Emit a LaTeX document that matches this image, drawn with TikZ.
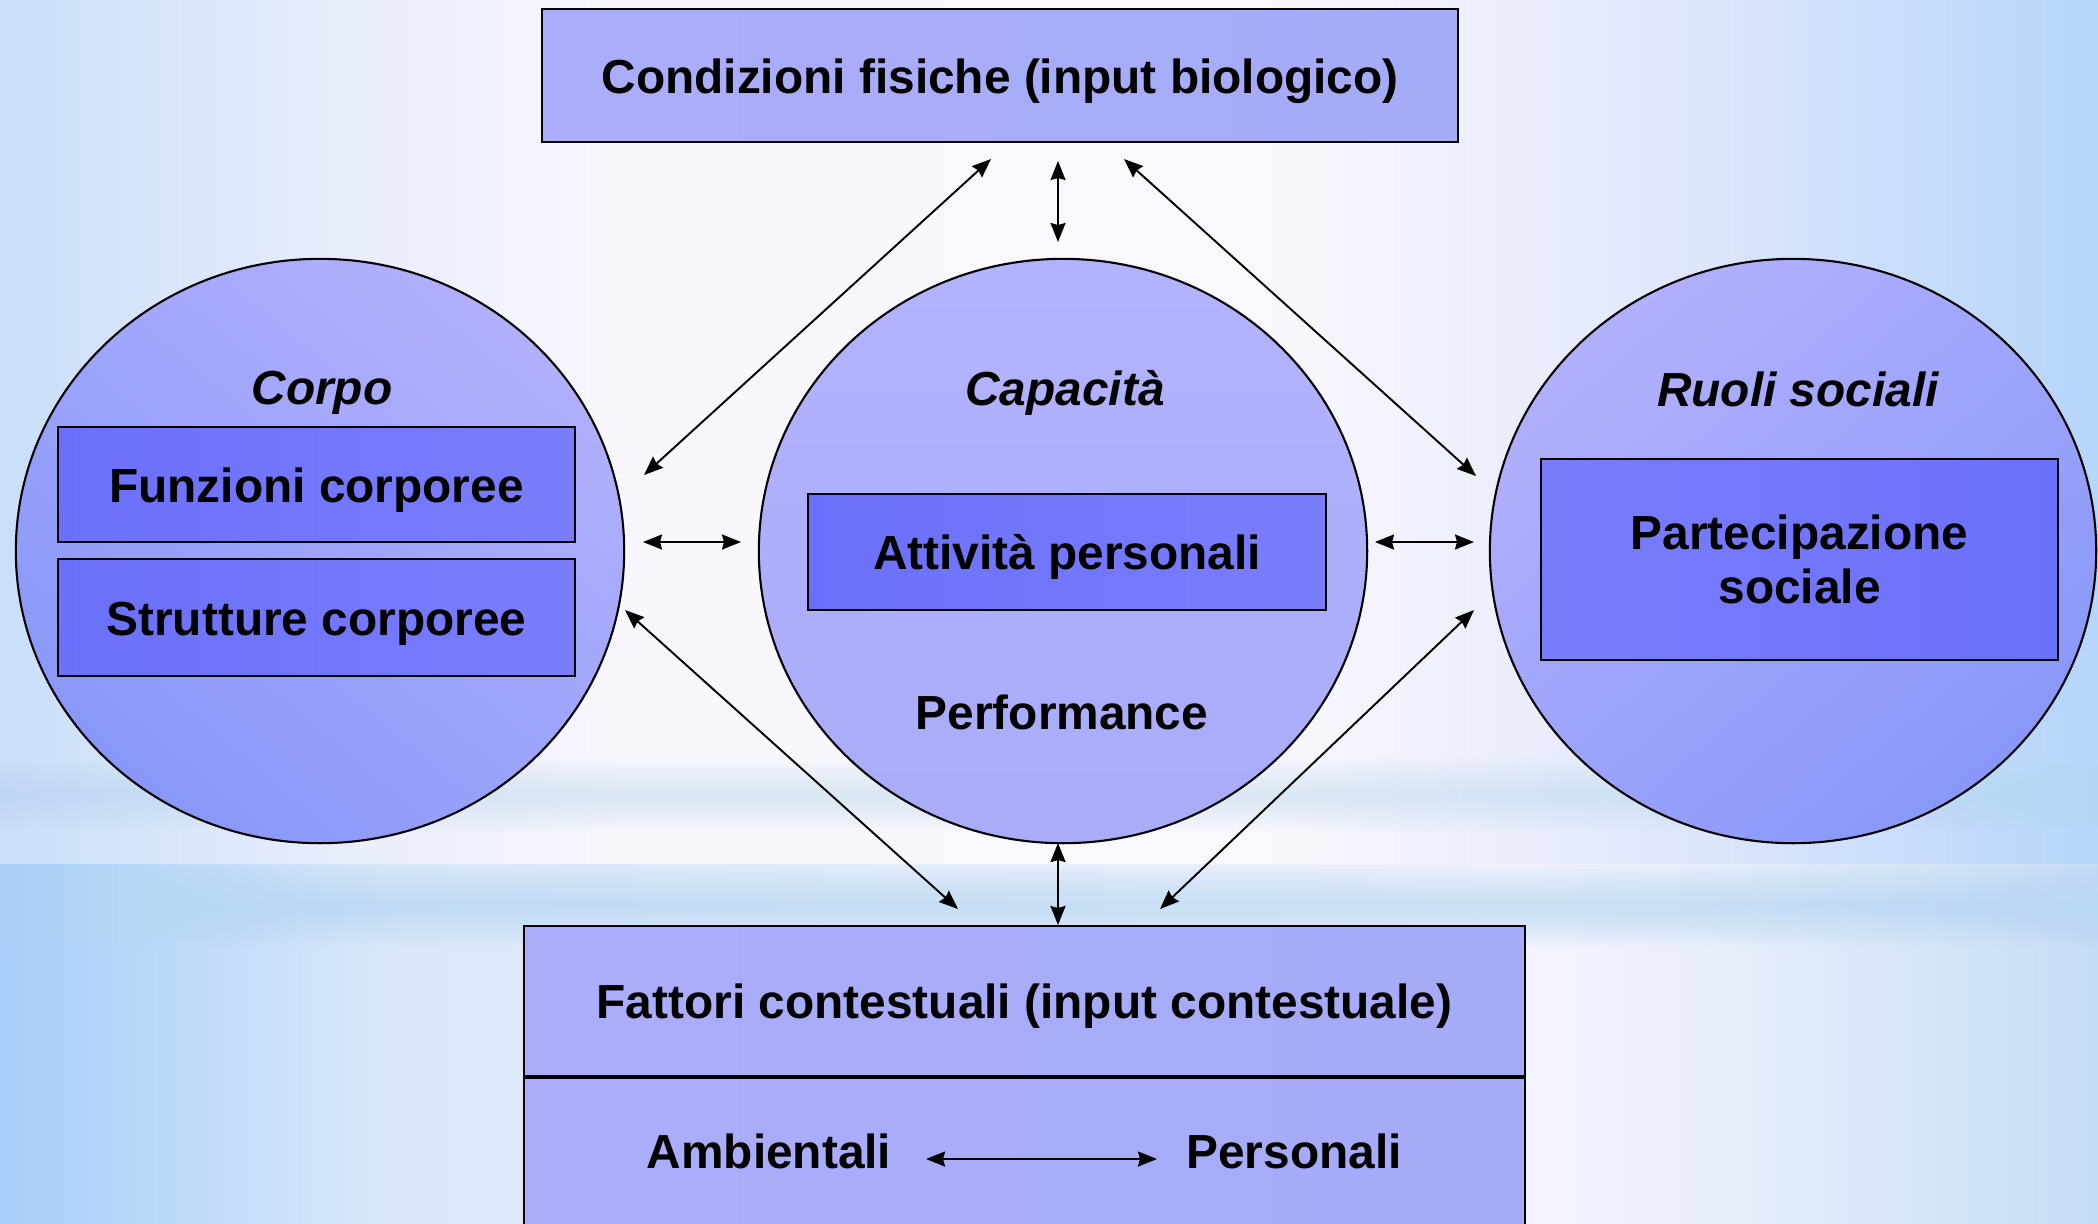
\documentclass[tikz,border=0pt]{standalone}
\usepackage{fontspec}
\setmainfont{Liberation Sans}
\usetikzlibrary{shapes.geometric,arrows.meta}
\definecolor{bgA}{HTML}{C9DEF9}
\definecolor{bgB}{HTML}{E6ECFB}
\definecolor{bgW}{HTML}{F9F7FD}
\definecolor{bgW2}{HTML}{FAF8FD}
\definecolor{bgD}{HTML}{E0E7FC}
\definecolor{bgE}{HTML}{B5D5FA}
\definecolor{lbA}{HTML}{A6CDF8}
\definecolor{lbB}{HTML}{B9D8F9}
\definecolor{lbC}{HTML}{DBE8FA}
\definecolor{lbD}{HTML}{F4F4FD}
\definecolor{lbE}{HTML}{EAEFFC}
\definecolor{lbF}{HTML}{D8E6F9}
\definecolor{lbG}{HTML}{C4DCF5}
\definecolor{bandcol}{HTML}{B6D8F5}
\definecolor{boxL}{HTML}{ABADFA}
\definecolor{boxM}{HTML}{B3B3FE}
\definecolor{boxR}{HTML}{A4ABF7}
\definecolor{cirLt}{HTML}{B2B0FD}
\definecolor{cirDk}{HTML}{8898F8}
\definecolor{cirMidT}{HTML}{B3B2FD}
\definecolor{cirMidB}{HTML}{A8ACF9}
\definecolor{inA}{HTML}{6B70FA}
\definecolor{inB}{HTML}{7A7DFB}
\pgfdeclarehorizontalshading{bgtop}{100bp}{color(0bp)=(bgA); color(25bp)=(bgA); color(32.5bp)=(bgB); color(40bp)=(bgW); color(55bp)=(bgW2); color(65bp)=(bgD); color(75bp)=(bgE); color(100bp)=(bgE)}
\pgfdeclarehorizontalshading{bgbot}{100bp}{color(0bp)=(lbA); color(25bp)=(lbA); color(28.6bp)=(lbB); color(34.5bp)=(lbC); color(61.3bp)=(lbD); color(65.5bp)=(lbE); color(70.3bp)=(lbF); color(75bp)=(lbG); color(100bp)=(lbG)}
\tikzset{
  >={Stealth[length=0.19cm,width=0.15cm,inset=0.02cm]},
  txt/.style={font=\fontsize{13.6pt}{15.4pt}\selectfont\bfseries, text=black, align=center},
  capc/.style={text height=12.9pt, text depth=2.9pt},
  ttl/.style={font=\fontsize{13.6pt}{15.4pt}\selectfont\bfseries\itshape, text=black},
  bigbox/.style={draw=black, line width=0.6pt, rectangle, inner sep=0pt, left color=boxL, middle color=boxM, right color=boxR, txt},
  innerbox/.style={draw=black, line width=0.6pt, rectangle, inner sep=0pt, left color=inA, right color=inB, txt},
  circ/.style={draw=black, line width=0.6pt, ellipse, inner sep=0pt, minimum width=6.08cm, minimum height=5.84cm},
  bandstrip/.style={left color=bandcol, middle color=bandcol!40!white, right color=bandcol, opacity=0.09},
  link/.style={line width=0.55pt, <->}
}
\begin{document}
\begin{tikzpicture}[x=0.01cm,y=-0.01cm]
\clip (0,0) rectangle (2098,1223);
\useasboundingbox (0,0) rectangle (2098,1223);
% background
\shade[shading=bgtop] (0,0) rectangle (2098,864);
\shade[shading=bgbot] (0,864) rectangle (2098,1223);
% soft bands
\foreach \h in {40,36,...,4} {
  \shade[bandstrip] (0,905-\h) rectangle (2098,905+\h);
}
\foreach \h in {36,32,...,4} {
  \shade[bandstrip, opacity=0.05] (0,795-\h) rectangle (2098,795+\h);
}

% top box
\node[bigbox, capc, minimum width=9.16cm, minimum height=1.33cm] (cond) at (1000,75.5) {Condizioni fisiche (input biologico)};

% circles
\node[circ, top color=cirLt, bottom color=cirDk, shading angle=-40] (corpo) at (320,551) {};
\node[circ, top color=cirMidT, bottom color=cirMidB] (capac) at (1063,551) {};
\node[circ, top color=cirLt, bottom color=cirDk, shading angle=40, minimum width=6.06cm] (ruoli) at (1793,551) {};

% titles
\node[ttl] (tcorpo) at (322,393) {Corpo};
\node[ttl] (tcapac) at (1065,393) {Capacità};
\node[ttl] (truoli) at (1798,389) {Ruoli sociali};

% inner boxes
\node[innerbox, capc, minimum width=5.17cm, minimum height=1.15cm] (funz) at (316.5,484.5) {Funzioni corporee};
\node[innerbox, capc, minimum width=5.17cm, minimum height=1.17cm] (strut) at (316.5,617.5) {Strutture corporee};
\node[innerbox, capc, minimum width=5.18cm, minimum height=1.16cm] (att) at (1067,552) {Attività personali};
\node[txt] (perf) at (1062,712) {Performance};
\node[innerbox, minimum width=5.17cm, minimum height=2.01cm, left color=inB, right color=inA] (part) at (1799.5,559.5) {Partecipazione\\sociale};

% bottom box
\node[bigbox, capc, minimum width=10.01cm, minimum height=1.50cm] (fatt) at (1024.5,1001) {Fattori contestuali (input contestuale)};
\node[bigbox, minimum width=10.01cm, minimum height=1.70cm, anchor=north] (amb) at (fatt.south) {};
\node[txt] (tamb) at (769,1151) {Ambientali};
\node[txt] (tpers) at (1294,1151) {Personali};

% connector end points
\coordinate (a1s) at (644,475);  \coordinate (a1e) at (991,159);
\coordinate (a2s) at (1058,242); \coordinate (a2e) at (1058,161);
\coordinate (a3s) at (1476,476); \coordinate (a3e) at (1124,159);
\coordinate (a4s) at (643,542);  \coordinate (a4e) at (741,542);
\coordinate (a5s) at (1375,542); \coordinate (a5e) at (1474,542);
\coordinate (a6s) at (625,610);  \coordinate (a6e) at (958,909);
\coordinate (a7s) at (1058,843); \coordinate (a7e) at (1058,925);
\coordinate (a8s) at (1474,610); \coordinate (a8e) at (1160,909);
\coordinate (a9s) at (926,1159); \coordinate (a9e) at (1157,1159);

\draw[link] (a1s) -- (a1e);
\draw[link] (a2s) -- (a2e);
\draw[link] (a3s) -- (a3e);
\draw[link] (a4s) -- (a4e);
\draw[link] (a5s) -- (a5e);
\draw[link] (a6s) -- (a6e);
\draw[link] (a7s) -- (a7e);
\draw[link] (a8s) -- (a8e);
\draw[link] (a9s) -- (a9e);
\end{tikzpicture}
\end{document}
